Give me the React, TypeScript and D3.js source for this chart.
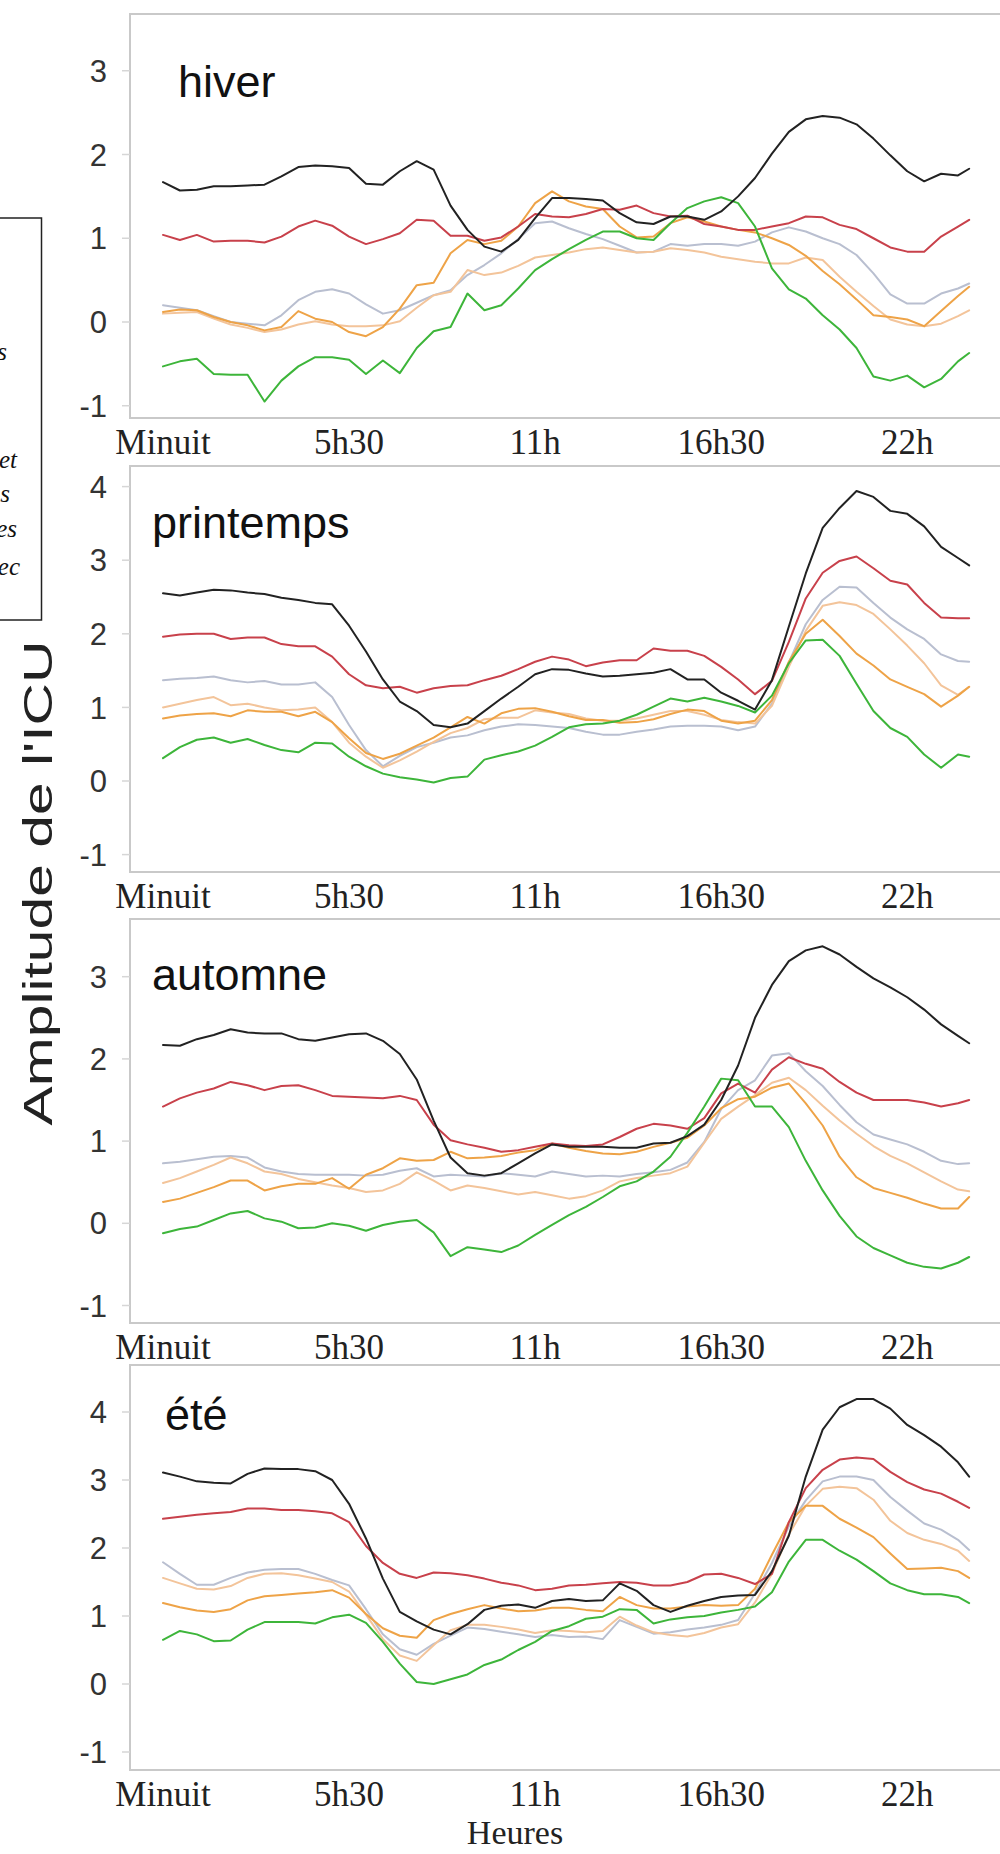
import React from "react";
import * as d3 from "d3";

// ---- time axis (hours) ----
const hours = [0, 0.5, 1, 1.5, 2, 2.5, 3, 3.5, 4, 4.5, 5, 5.5, 6, 6.5, 7, 7.5, 8, 8.5, 9, 9.5, 10, 10.5, 11, 11.5, 12, 12.5, 13, 13.5, 14, 14.5, 15, 15.5, 16, 16.5, 17, 17.5, 18, 18.5, 19, 19.5, 20, 20.5, 21, 21.5, 22, 22.5, 23, 23.5, 23.83];
const xTickHours = [0, 5.5, 11, 16.5, 22];
const xTickLabels = ["Minuit", "5h30", "11h", "16h30", "22h"];

const seasonNames = ["hiver", "printemps", "automne", "été"];
const seriesKeys = ["gris", "peche", "orange", "rouge", "vert", "noir"];
const seriesColors: Record<string, string> = {
  noir: "#222222",
  rouge: "#c8414b",
  gris: "#b9bfd0",
  peche: "#f3c49a",
  orange: "#eea347",
  vert: "#3db53a",
};

const yTicksHiver = [-1, 0, 1, 2, 3];
const yTicksPrintemps = [-1, 0, 1, 2, 3, 4];
const yTicksAutomne = [-1, 0, 1, 2, 3];
const yTicksEte = [-1, 0, 1, 2, 3, 4];

// ---- hiver ----
const hiverNoir = [1.67,1.57,1.58,1.62,1.62,1.63,1.64,1.74,1.85,1.87,1.86,1.84,1.65,1.64,1.80,1.92,1.82,1.39,1.10,0.90,0.84,0.98,1.24,1.48,1.48,1.47,1.45,1.30,1.19,1.17,1.26,1.26,1.22,1.32,1.50,1.72,2.01,2.27,2.42,2.46,2.44,2.36,2.19,1.99,1.80,1.68,1.77,1.75,1.83];
const hiverRouge = [1.04,0.98,1.04,0.96,0.97,0.97,0.95,1.02,1.14,1.21,1.15,1.02,0.93,0.99,1.06,1.22,1.21,1.03,1.03,0.97,1.01,1.14,1.29,1.26,1.25,1.29,1.35,1.34,1.39,1.30,1.26,1.27,1.17,1.14,1.10,1.10,1.14,1.18,1.26,1.25,1.16,1.11,1.00,0.89,0.84,0.84,1.02,1.14,1.22];
const hiverGris = [0.20,0.17,0.14,0.07,0.00,-0.02,-0.04,0.08,0.26,0.36,0.39,0.34,0.21,0.10,0.14,0.23,0.32,0.38,0.56,0.68,0.82,0.99,1.18,1.20,1.12,1.05,0.99,0.91,0.83,0.84,0.93,0.91,0.93,0.93,0.91,0.96,1.07,1.13,1.08,1.00,0.93,0.80,0.58,0.33,0.22,0.22,0.34,0.40,0.46];
const hiverPeche = [0.10,0.11,0.12,0.04,-0.03,-0.07,-0.12,-0.09,-0.03,0.01,-0.03,-0.05,-0.05,-0.04,0.01,0.17,0.32,0.36,0.62,0.56,0.59,0.67,0.77,0.80,0.83,0.87,0.89,0.86,0.83,0.84,0.88,0.86,0.83,0.78,0.75,0.72,0.70,0.70,0.77,0.74,0.54,0.36,0.19,0.03,-0.03,-0.05,-0.02,0.07,0.14];
const hiverOrange = [0.12,0.15,0.14,0.06,0.00,-0.04,-0.10,-0.06,0.13,0.04,0.00,-0.12,-0.17,-0.06,0.16,0.44,0.47,0.82,0.98,0.93,0.97,1.14,1.42,1.56,1.44,1.38,1.35,1.14,1.01,1.02,1.18,1.25,1.20,1.14,1.10,1.07,1.00,0.92,0.79,0.61,0.45,0.27,0.08,0.06,0.03,-0.05,0.13,0.31,0.42];
const hiverVert = [-0.53,-0.47,-0.44,-0.62,-0.63,-0.63,-0.95,-0.70,-0.53,-0.42,-0.42,-0.45,-0.62,-0.46,-0.61,-0.31,-0.11,-0.06,0.34,0.14,0.20,0.40,0.62,0.75,0.87,0.98,1.08,1.08,1.00,0.98,1.18,1.36,1.44,1.49,1.42,1.14,0.64,0.39,0.28,0.08,-0.09,-0.31,-0.65,-0.70,-0.64,-0.78,-0.68,-0.47,-0.37];

// ---- printemps ----
const printempsNoir = [2.55,2.52,2.56,2.60,2.59,2.56,2.54,2.49,2.46,2.42,2.40,2.11,1.76,1.38,1.08,0.95,0.76,0.73,0.78,0.95,1.12,1.28,1.45,1.52,1.51,1.46,1.42,1.43,1.45,1.47,1.52,1.38,1.38,1.20,1.09,0.97,1.37,2.10,2.82,3.44,3.71,3.94,3.86,3.67,3.63,3.46,3.18,3.03,2.93];
const printempsRouge = [1.96,1.99,2.00,2.00,1.93,1.95,1.95,1.86,1.83,1.83,1.69,1.45,1.30,1.26,1.28,1.20,1.26,1.29,1.30,1.37,1.43,1.52,1.62,1.69,1.65,1.56,1.61,1.64,1.64,1.80,1.77,1.77,1.70,1.55,1.38,1.18,1.36,1.89,2.48,2.83,2.99,3.05,2.89,2.72,2.67,2.42,2.22,2.21,2.21];
const printempsGris = [1.37,1.39,1.40,1.42,1.37,1.34,1.36,1.31,1.31,1.34,1.14,0.76,0.42,0.20,0.34,0.46,0.52,0.59,0.62,0.69,0.74,0.77,0.76,0.74,0.72,0.67,0.63,0.63,0.67,0.70,0.74,0.75,0.75,0.74,0.69,0.74,1.05,1.61,2.13,2.46,2.64,2.63,2.42,2.22,2.06,1.93,1.72,1.63,1.62];
const printempsPeche = [1.00,1.05,1.10,1.14,1.03,1.05,1.00,0.96,0.97,1.00,0.80,0.52,0.33,0.18,0.28,0.40,0.53,0.65,0.72,0.84,0.86,0.86,0.96,0.93,0.91,0.85,0.82,0.82,0.85,0.90,0.95,0.95,0.90,0.83,0.80,0.78,1.02,1.55,2.04,2.38,2.43,2.39,2.27,2.06,1.84,1.60,1.30,1.17,1.28];
const printempsOrange = [0.85,0.89,0.91,0.92,0.88,0.96,0.94,0.94,0.88,0.94,0.80,0.58,0.38,0.30,0.37,0.48,0.59,0.73,0.87,0.78,0.92,0.98,0.99,0.94,0.88,0.83,0.83,0.79,0.80,0.84,0.91,0.97,0.95,0.82,0.78,0.82,1.10,1.62,2.00,2.19,1.97,1.73,1.57,1.38,1.28,1.18,1.01,1.16,1.28];
const printempsVert = [0.31,0.46,0.56,0.59,0.52,0.57,0.49,0.42,0.39,0.52,0.51,0.33,0.20,0.10,0.05,0.02,-0.02,0.04,0.06,0.29,0.35,0.40,0.48,0.60,0.73,0.77,0.78,0.82,0.90,1.01,1.12,1.08,1.13,1.08,1.02,0.93,1.16,1.60,1.91,1.92,1.70,1.32,0.95,0.72,0.60,0.36,0.18,0.36,0.33];

// ---- automne ----
const automneNoir = [2.17,2.16,2.24,2.29,2.36,2.32,2.31,2.31,2.24,2.22,2.26,2.30,2.31,2.22,2.06,1.75,1.25,0.80,0.61,0.58,0.61,0.73,0.85,0.96,0.93,0.93,0.93,0.92,0.92,0.97,0.98,1.06,1.20,1.50,1.92,2.50,2.90,3.19,3.32,3.37,3.27,3.12,2.98,2.87,2.75,2.60,2.42,2.28,2.19];
const automneRouge = [1.42,1.52,1.59,1.64,1.72,1.68,1.62,1.67,1.68,1.62,1.55,1.54,1.53,1.52,1.55,1.50,1.20,1.01,0.96,0.92,0.87,0.89,0.93,0.97,0.95,0.94,0.96,1.05,1.15,1.21,1.19,1.15,1.28,1.58,1.70,1.59,1.87,2.02,1.94,1.88,1.72,1.59,1.50,1.50,1.50,1.47,1.42,1.46,1.50];
const automneGris = [0.73,0.75,0.78,0.81,0.82,0.80,0.68,0.63,0.60,0.59,0.59,0.59,0.58,0.59,0.64,0.67,0.57,0.59,0.58,0.57,0.61,0.59,0.57,0.63,0.60,0.57,0.58,0.57,0.60,0.62,0.65,0.74,0.99,1.39,1.62,1.74,2.04,2.07,1.85,1.67,1.44,1.23,1.08,1.02,0.96,0.87,0.76,0.72,0.73];
const automnePeche = [0.49,0.55,0.63,0.71,0.80,0.73,0.63,0.60,0.54,0.50,0.46,0.43,0.38,0.40,0.48,0.62,0.52,0.40,0.46,0.43,0.39,0.35,0.38,0.34,0.30,0.33,0.40,0.51,0.55,0.58,0.61,0.69,0.98,1.27,1.42,1.56,1.71,1.77,1.62,1.43,1.25,1.09,0.94,0.82,0.73,0.62,0.51,0.41,0.39];
const automneOrange = [0.26,0.30,0.37,0.44,0.52,0.52,0.40,0.45,0.48,0.48,0.55,0.42,0.59,0.67,0.79,0.76,0.77,0.87,0.79,0.80,0.82,0.86,0.89,0.97,0.92,0.88,0.85,0.84,0.87,0.93,0.98,1.04,1.19,1.40,1.51,1.54,1.65,1.70,1.46,1.19,0.81,0.56,0.43,0.37,0.31,0.24,0.18,0.18,0.32];
const automneVert = [-0.12,-0.07,-0.04,0.04,0.12,0.15,0.06,0.02,-0.06,-0.05,0.00,-0.03,-0.09,-0.02,0.02,0.04,-0.11,-0.40,-0.29,-0.32,-0.35,-0.27,-0.14,-0.02,0.10,0.20,0.32,0.45,0.51,0.63,0.81,1.10,1.42,1.76,1.74,1.42,1.42,1.17,0.76,0.40,0.09,-0.16,-0.30,-0.39,-0.48,-0.53,-0.55,-0.48,-0.41];

// ---- été ----
const eteNoir = [3.11,3.05,2.98,2.96,2.95,3.09,3.17,3.16,3.16,3.13,3.00,2.65,2.14,1.55,1.06,0.92,0.80,0.73,0.88,1.09,1.15,1.17,1.12,1.22,1.25,1.22,1.23,1.48,1.37,1.16,1.06,1.15,1.22,1.28,1.30,1.31,1.66,2.18,3.05,3.74,4.07,4.19,4.19,4.05,3.81,3.66,3.49,3.26,3.05];
const eteRouge = [2.43,2.46,2.49,2.51,2.53,2.58,2.58,2.56,2.56,2.54,2.51,2.38,2.03,1.78,1.62,1.56,1.64,1.63,1.60,1.55,1.49,1.45,1.38,1.40,1.45,1.46,1.48,1.50,1.49,1.45,1.45,1.50,1.61,1.62,1.56,1.47,1.62,2.38,2.88,3.15,3.30,3.33,3.31,3.12,2.97,2.86,2.80,2.68,2.59];
const eteGris = [1.79,1.62,1.46,1.46,1.56,1.64,1.68,1.69,1.69,1.62,1.53,1.45,1.10,0.73,0.51,0.43,0.59,0.71,0.83,0.81,0.77,0.73,0.69,0.72,0.69,0.70,0.66,0.94,0.84,0.74,0.76,0.80,0.83,0.87,0.94,1.33,1.78,2.32,2.70,2.98,3.05,3.05,3.00,2.75,2.55,2.36,2.27,2.12,1.97];
const etePeche = [1.56,1.48,1.40,1.39,1.44,1.56,1.62,1.63,1.60,1.55,1.50,1.36,1.02,0.66,0.42,0.34,0.57,0.79,0.87,0.87,0.84,0.80,0.75,0.79,0.78,0.76,0.78,0.99,0.86,0.76,0.72,0.70,0.75,0.83,0.88,1.20,1.62,2.20,2.62,2.87,2.90,2.88,2.71,2.40,2.22,2.12,2.06,1.96,1.81];
const eteOrange = [1.19,1.13,1.08,1.06,1.10,1.23,1.29,1.31,1.33,1.35,1.38,1.27,1.03,0.82,0.71,0.68,0.94,1.03,1.10,1.16,1.11,1.07,1.08,1.12,1.12,1.09,1.07,1.28,1.16,1.11,1.11,1.14,1.16,1.15,1.16,1.40,1.90,2.38,2.62,2.62,2.43,2.30,2.16,1.92,1.69,1.70,1.71,1.66,1.56];
const eteVert = [0.65,0.78,0.73,0.63,0.64,0.80,0.91,0.91,0.91,0.89,0.98,1.02,0.90,0.62,0.30,0.03,0.00,0.07,0.14,0.28,0.36,0.50,0.62,0.78,0.85,0.96,0.99,1.10,1.09,0.89,0.95,0.98,1.00,1.05,1.09,1.14,1.35,1.80,2.12,2.12,1.96,1.83,1.66,1.48,1.38,1.32,1.32,1.28,1.19];

// side box text fragments (cut-off caption)
const boxFragments = ["s", "et", "s", "es", "ec"];

const seasonData: Record<string, number[]>[] = [
  { noir: hiverNoir, rouge: hiverRouge, gris: hiverGris, peche: hiverPeche, orange: hiverOrange, vert: hiverVert },
  { noir: printempsNoir, rouge: printempsRouge, gris: printempsGris, peche: printempsPeche, orange: printempsOrange, vert: printempsVert },
  { noir: automneNoir, rouge: automneRouge, gris: automneGris, peche: automnePeche, orange: automneOrange, vert: automneVert },
  { noir: eteNoir, rouge: eteRouge, gris: eteGris, peche: etePeche, orange: eteOrange, vert: eteVert },
];
const seasonTicks = [yTicksHiver, yTicksPrintemps, yTicksAutomne, yTicksEte];

// ---- layout ----
const SANS = "'Liberation Sans', Arial, Helvetica, sans-serif";
const SERIF = "'Liberation Serif', 'Times New Roman', Times, serif";
const FRAME_LEFT = 130;
const layout = [
  { top: 14, bottom: 418, yLow: 405.75, yHigh: 70.75, labelX: 178, labelY: 97 },
  { top: 466, bottom: 872, yLow: 854.6, yHigh: 486.6, labelX: 152, labelY: 538 },
  { top: 919, bottom: 1323, yLow: 1305.5, yHigh: 976.7, labelX: 152, labelY: 990 },
  { top: 1365, bottom: 1770, yLow: 1752, yHigh: 1412, labelX: 165, labelY: 1430 },
];
const boxLines = [
  { right: 7, y: 360 },
  { right: 17, y: 468 },
  { right: 10, y: 502 },
  { right: 17, y: 537 },
  { right: 20, y: 575 },
];

export default function App() {
  const x = d3.scaleLinear().domain([0, 24]).range([163, 163 + 24 * 33.83]);

  return (
    <div style={{ position: "absolute", left: 0, top: 0 }}>
      <svg width={1000} height={1854} viewBox="0 0 1000 1854" style={{ display: "block", background: "#ffffff" }}>
        <rect x={0} y={0} width={1000} height={1854} fill="#ffffff" />

        {/* cut-off caption box */}
        <rect x={-2} y={218} width={43.5} height={402} fill="none" stroke="#222" strokeWidth={1.5} />
        {boxFragments.map((t, i) => (
          <text key={"bf" + i} x={boxLines[i].right} y={boxLines[i].y} textAnchor="end"
            fontFamily={SERIF} fontStyle="italic" fontSize={25} fill="#111">{t}</text>
        ))}

        {/* y title */}
        <text transform="translate(52,883) rotate(-90)" textAnchor="middle" fontFamily={SANS}
          fontSize={40} fill="#222" textLength={485} lengthAdjust="spacingAndGlyphs">Amplitude de l'ICU</text>

        {seasonNames.map((name, p) => {
          const L = layout[p];
          const ticks = seasonTicks[p];
          const y = d3.scaleLinear()
            .domain([ticks[0], ticks[ticks.length - 1]])
            .range([L.yLow, L.yHigh]);
          const line = d3.line<number>()
            .x((_, i) => x(hours[i]))
            .y((v) => y(v));
          const data = seasonData[p];
          return (
            <g key={name}>
              <rect x={FRAME_LEFT} y={L.top} width={1010 - FRAME_LEFT} height={L.bottom - L.top}
                fill="#fff" stroke="#c9c9c9" strokeWidth={2} />
              {ticks.map((t) => (
                <g key={t}>
                  <line x1={FRAME_LEFT - 8} x2={FRAME_LEFT} y1={y(t)} y2={y(t)} stroke="#d6d6d6" strokeWidth={1.5} />
                  <text x={107} y={y(t)} dy="0.36em" textAnchor="end" fontFamily={SANS} fontSize={31} fill="#333">{t}</text>
                </g>
              ))}
              {seriesKeys.map((k) => (
                <path key={k} d={line(data[k]) || ""} fill="none" stroke={seriesColors[k]}
                  strokeWidth={2} strokeLinejoin="round" strokeLinecap="round" />
              ))}
              <text x={L.labelX} y={L.labelY} fontFamily={SANS} fontSize={45} fill="#111">{name}</text>
              {xTickHours.map((h, i) => (
                <text key={"xt" + i} x={x(h)} y={L.bottom + 36} textAnchor="middle" fontFamily={SERIF}
                  fontSize={35} fill="#222">{xTickLabels[i]}</text>
              ))}
            </g>
          );
        })}

        <text x={515} y={1844} textAnchor="middle" fontFamily={SERIF} fontSize={34} fill="#222">Heures</text>
      </svg>
    </div>
  );
}
